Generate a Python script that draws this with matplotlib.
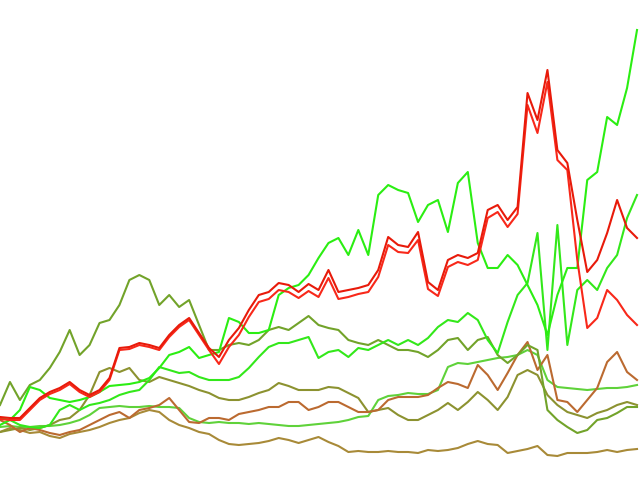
import matplotlib
matplotlib.use("Agg")
import matplotlib.pyplot as plt
import numpy as np

# values, one per ~10 px step (65 steps)
green_top = [55, 60, 70, 93, 90, 82, 80, 78, 80, 83, 88, 94, 95, 96, 98, 102,
             112, 125, 128, 133, 122, 125, 128, 162, 158, 147, 147, 150, 185, 192,
             195, 205, 222, 237, 242, 225, 250, 225, 285, 295, 290, 287, 258, 275,
             280, 248, 297, 308, 237, 212, 212, 225, 215, 195, 175, 145, 185, 212,
             212, 300, 308, 363, 355, 392, 450]
green_mid = [62, 60, 55, 53, 52, 55, 70, 75, 70, 75, 77, 80, 85, 88, 90, 100,
             113, 110, 107, 108, 103, 100, 100, 100, 103, 112, 123, 133, 137, 137,
             140, 143, 122, 128, 130, 123, 132, 130, 135, 140, 135, 140, 135, 142,
             153, 160, 158, 167, 160, 140, 127, 158, 185, 197, 247, 130, 255, 135,
             190, 200, 190, 212, 225, 262, 285]
green_flat = [53, 54, 53, 53, 54, 54, 55, 57, 60, 65, 72, 73, 74, 73, 73, 74,
              73, 73, 72, 62, 58, 57, 58, 57, 57, 56, 57, 56, 55, 54, 54, 55,
              56, 57, 58, 60, 63, 64, 80, 84, 85, 87, 86, 86, 90, 113, 117, 116,
              118, 120, 122, 123, 125, 130, 125, 100, 93, 92, 91, 90, 91, 92, 92,
              93, 95]
red_a = [63, 62, 62, 72, 82, 88, 92, 98, 90, 85, 90, 102, 132, 133, 137, 135,
         132, 145, 155, 162, 147, 132, 123, 140, 152, 170, 185, 188, 197, 195,
         188, 196, 190, 210, 188, 190, 192, 195, 210, 243, 235, 233, 248, 198,
         190, 220, 225, 222, 227, 270, 275, 260, 273, 387, 360, 410, 330, 317,
         260, 208, 220, 247, 280, 252, 242]
red_b = [61, 60, 60, 70, 80, 86, 90, 96, 88, 83, 88, 100, 130, 131, 135, 133,
         130, 143, 153, 160, 145, 130, 116, 133, 145, 163, 178, 181, 190, 188,
         182, 189, 183, 202, 181, 183, 186, 188, 203, 235, 228, 227, 240, 191,
         184, 213, 218, 215, 220, 262, 268, 253, 266, 375, 347, 398, 320, 310,
         220, 152, 162, 190, 180, 165, 155]
olive_a = [75, 98, 80, 95, 100, 112, 128, 150, 125, 135, 157, 160, 175, 200, 205, 200,
           175, 185, 173, 180, 155, 130, 130, 135, 137, 135, 140, 150, 153, 150,
           157, 164, 155, 152, 150, 140, 137, 135, 140, 135, 130, 130, 128, 123,
           130, 140, 142, 130, 140, 143, 125, 117, 125, 135, 130, 70, 60, 53, 47,
           50, 60, 62, 67, 73, 73]
olive_b = [48, 50, 52, 50, 52, 55, 60, 62, 70, 85, 108, 112, 108, 112, 100, 98,
           103, 100, 97, 94, 90, 87, 82, 80, 80, 83, 87, 90, 97, 94, 90, 90,
           90, 93, 92, 87, 82, 68, 70, 72, 65, 60, 60, 65, 70, 77, 70, 78, 88,
           80, 70, 83, 105, 110, 105, 85, 75, 68, 65, 62, 67, 70, 75, 78, 75]
brown = [60, 55, 48, 52, 50, 47, 45, 48, 50, 55, 60, 65, 68, 62, 70, 72,
         75, 82, 70, 58, 57, 62, 62, 60, 66, 68, 70, 73, 73, 78, 78, 70,
         73, 78, 78, 73, 68, 68, 70, 80, 83, 83, 83, 85, 92, 98, 96, 92, 115,
         105, 90, 107, 125, 138, 110, 125, 80, 78, 68, 80, 92, 118, 128, 108, 100]
olive_low = [48, 52, 50, 47, 48, 44, 42, 46, 48, 50, 53, 57, 60, 62, 67, 70,
             68, 60, 55, 52, 48, 46, 40, 36, 35, 36, 37, 39, 42, 40, 37, 40,
             43, 38, 34, 28, 29, 28, 28, 29, 28, 28, 27, 30, 29, 30, 32, 36, 39,
             36, 35, 27, 29, 31, 34, 25, 24, 27, 27, 27, 28, 30, 28, 30, 31]

series = [
    (green_flat, '#5fd23a'),
    (olive_low, '#a88a38'),
    (olive_b, '#8c9230'),
    (brown, '#bb6a30'),
    (olive_a, '#72a32a'),
    (green_mid, '#33e81a'),
    (green_top, '#2bee12'),
    (red_b, '#f8281a'),
    (red_a, '#e81a0a'),
]

fig = plt.figure(figsize=(6.4, 4.8), dpi=100)
ax = fig.add_axes([0., 0., 1., 1.])
x = np.arange(len(green_top))
for vals, col in series:
    ax.plot(x, vals, color=col, lw=1.5)
ax.set_xlim(0, len(x) - 0.7)
ax.set_ylim(0, 480)
ax.axis('off')
fig.savefig('out.png', dpi=100)
